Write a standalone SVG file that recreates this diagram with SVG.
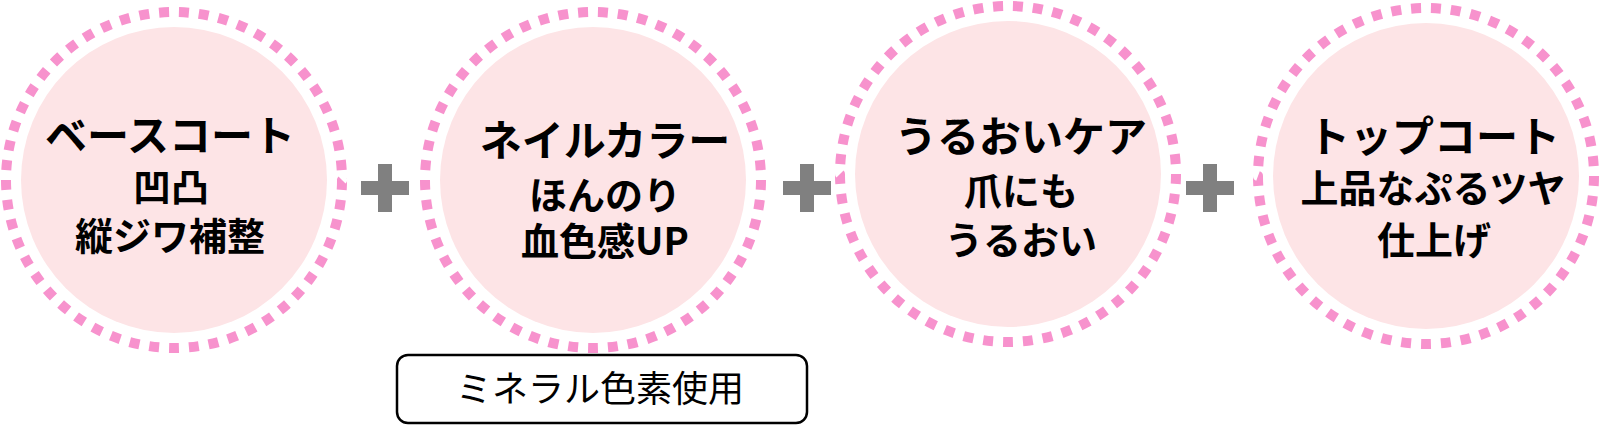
<svg xmlns="http://www.w3.org/2000/svg" width="1620" height="439" viewBox="0 0 1620 439">
<style>
.fill{fill:#FDE4E6;}
.ring{fill:none;stroke:#F792CD;stroke-width:10;stroke-dasharray:10 10;}
.t{font-family:"Noto Sans CJK JP","Noto Sans",sans-serif;font-weight:bold;fill:#000;text-anchor:middle;}
.h{font-size:42px;}
.s{font-size:38px;}
.plus{fill:#808080;}
.box{fill:#fff;stroke:#000;stroke-width:2.5;}
.bt{font-family:"Noto Sans CJK JP","Noto Sans",sans-serif;font-size:36px;fill:#000;text-anchor:middle;}
</style>
<rect width="1620" height="439" fill="#fff"/>
<g id="node-base">
<circle class="fill" cx="174" cy="180" r="153"/>
<circle class="ring" cx="174" cy="180" r="168" pathLength="1060"/>
<text class="t h" x="170" y="151">ベースコート</text>
<text class="t s" x="171" y="201">凹凸</text>
<text class="t s" x="170" y="250">縦ジワ補整</text>
</g>
<g id="node-color">
<circle class="fill" cx="593" cy="180" r="153"/>
<circle class="ring" cx="593" cy="180" r="168" pathLength="1060"/>
<text class="t h" x="605" y="156">ネイルカラー</text>
<text class="t s" x="605" y="209">ほんのり</text>
<text class="t s" x="605" y="255">血色感UP</text>
</g>
<g id="node-care">
<circle class="fill" cx="1008" cy="174" r="153"/>
<circle class="ring" cx="1008" cy="174" r="168" pathLength="1060"/>
<text class="t h" x="1021" y="152">うるおいケア</text>
<text class="t s" x="1021" y="205">爪にも</text>
<text class="t s" x="1021" y="254">うるおい</text>
</g>
<g id="node-top">
<circle class="fill" cx="1426" cy="176" r="153"/>
<circle class="ring" cx="1426" cy="176" r="168" pathLength="1060"/>
<text class="t h" x="1434" y="152">トップコート</text>
<text class="t s" x="1433" y="202">上品なぷるツヤ</text>
<text class="t s" x="1434" y="254">仕上げ</text>
</g>
<g id="connectors">
<path class="plus" d="M378 164h14v17h17v14h-17v17h-14v-17h-17v-14h17z"/>
<path class="plus" d="M800 164h14v17h17v14h-17v17h-14v-17h-17v-14h17z"/>
<path class="plus" d="M1203 164h14v17h17v14h-17v17h-14v-17h-17v-14h17z"/>
</g>
<g id="note">
<rect class="box" x="397" y="355" width="410" height="68" rx="11"/>
<text class="bt" x="600" y="402">ミネラル色素使用</text>
</g>
</svg>
